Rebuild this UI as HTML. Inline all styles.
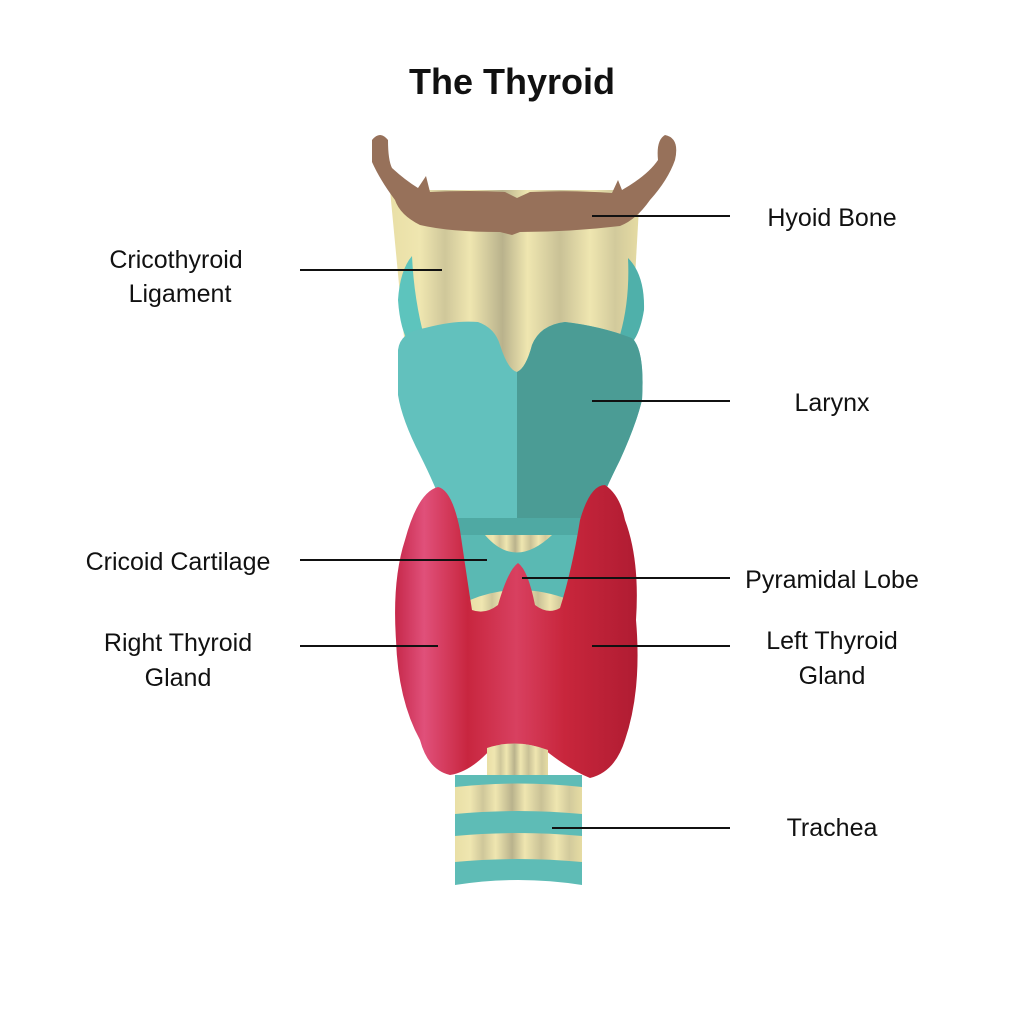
<!DOCTYPE html>
<html><head><meta charset="utf-8"><style>
html,body{margin:0;padding:0;background:#fff;width:1024px;height:1024px;overflow:hidden}
svg{display:block}
text{font-family:"Liberation Sans",sans-serif;fill:#111}
</style></head><body>
<svg width="1024" height="1024" viewBox="0 0 1024 1024" xmlns="http://www.w3.org/2000/svg">
<defs>
<linearGradient id="cream" x1="0" x2="1" y1="0" y2="0">
<stop offset="0" stop-color="#e9dfa6"/><stop offset="0.12" stop-color="#efe6b0"/><stop offset="0.22" stop-color="#cfc79a"/><stop offset="0.32" stop-color="#efe6b0"/><stop offset="0.45" stop-color="#b9b28c"/><stop offset="0.55" stop-color="#efe6b0"/><stop offset="0.68" stop-color="#c9c196"/><stop offset="0.8" stop-color="#efe6b0"/><stop offset="0.9" stop-color="#d2ca9c"/><stop offset="1" stop-color="#e6dca3"/>
</linearGradient>
<linearGradient id="red" x1="0" x2="1"><stop offset="0" stop-color="#c6284a"/><stop offset="0.12" stop-color="#e0507a"/><stop offset="0.3" stop-color="#c8263f"/><stop offset="0.5" stop-color="#d84060"/><stop offset="0.7" stop-color="#c8263c"/><stop offset="1" stop-color="#b01c32"/></linearGradient>
</defs>
<text x="512" y="94" font-size="36" font-weight="bold" text-anchor="middle">The Thyroid</text>

<!-- ligament -->
<path d="M390 190 L640 190 L628 400 L410 400 Z" fill="url(#cream)"/>
<!-- side horns -->
<path d="M412 256 Q400 270 398 300 Q400 330 410 345 L425 340 Q414 300 412 256Z" fill="#5dc4bd"/>
<path d="M628 258 Q645 275 644 310 Q640 335 630 345 L620 335 Q630 300 628 258Z" fill="#4fb0aa"/>
<!-- hyoid -->
<path d="M372 140 Q380 130 388 140 Q388 160 392 168 Q405 180 418 188 L426 176 L430 192 Q470 190 505 192 L517 198 L530 192 Q575 190 612 193 L618 180 L622 190 Q648 175 658 160 Q656 140 665 135 Q680 138 675 160 Q668 180 650 200 Q636 220 620 226 Q570 232 520 232 L512 235 L500 232 Q450 232 420 225 Q400 215 395 200 Q380 180 372 162Z" fill="#97715a"/>
<!-- thyroid cartilage -->
<path d="M398 350 Q400 332 425 328 Q455 320 478 322 Q495 328 500 345 Q508 370 517 372 Q526 368 532 345 Q540 325 565 322 Q600 326 632 338 Q645 350 642 400 Q636 425 620 460 Q600 500 594 520 L447 520 Q440 495 420 455 Q402 420 398 395Z" fill="#62c1bd"/>
<path d="M517 372 Q526 368 532 345 Q540 325 565 322 Q600 326 632 338 Q645 350 642 400 Q636 425 620 460 Q600 500 594 520 L517 520Z" fill="#4b9c95"/>
<path d="M445 518 L596 518 Q592 535 578 540 L460 540 Q448 535 445 518Z" fill="#4fa9a3"/>
<!-- cricoid -->
<path d="M452 535 L585 535 L588 610 L450 610Z" fill="#5ab9b3"/>
<path d="M485 535 Q515 570 552 535Z" fill="url(#cream)"/>
<path d="M470 600 Q518 580 570 600 L570 615 L470 615Z" fill="url(#cream)"/>
<!-- thyroid gland -->
<path d="M438 487 Q452 490 460 530 Q468 585 472 610 Q485 615 498 605 Q508 570 518 563 Q528 570 535 605 Q548 615 560 608 Q572 570 580 520 Q590 485 605 485 Q620 495 625 520 Q640 560 636 620 Q642 690 625 740 Q615 772 590 778 Q570 770 545 750 Q520 738 490 750 Q470 772 450 775 Q428 770 420 740 Q398 700 396 640 Q392 580 405 540 Q418 492 438 487Z" fill="url(#red)"/>
<!-- trachea -->
<path d="M487 748 Q517 738 548 750 L548 775 L487 775Z" fill="url(#cream)"/>
<path d="M455 775 L582 775 L582 885 Q518 875 455 885Z" fill="#5ebcb6"/>
<path d="M455 787 Q518 780 582 787 L582 814 Q518 808 455 814Z" fill="url(#cream)"/>
<path d="M455 836 Q518 830 582 836 L582 862 Q518 856 455 862Z" fill="url(#cream)"/>

<g stroke="#111" stroke-width="2">
<line x1="592" y1="216" x2="730" y2="216"/>
<line x1="300" y1="270" x2="442" y2="270"/>
<line x1="592" y1="401" x2="730" y2="401"/>
<line x1="300" y1="560" x2="487" y2="560"/>
<line x1="522" y1="578" x2="730" y2="578"/>
<line x1="300" y1="646" x2="438" y2="646"/>
<line x1="592" y1="646" x2="730" y2="646"/>
<line x1="552" y1="828" x2="730" y2="828"/>
</g>
<g font-size="25">
<text x="832" y="226" text-anchor="middle">Hyoid Bone</text>
<text x="176" y="268" text-anchor="middle">Cricothyroid</text>
<text x="180" y="302" text-anchor="middle">Ligament</text>
<text x="832" y="411" text-anchor="middle">Larynx</text>
<text x="178" y="570" text-anchor="middle">Cricoid Cartilage</text>
<text x="832" y="588" text-anchor="middle">Pyramidal Lobe</text>
<text x="178" y="651" text-anchor="middle">Right Thyroid</text>
<text x="178" y="686" text-anchor="middle">Gland</text>
<text x="832" y="649" text-anchor="middle">Left Thyroid</text>
<text x="832" y="684" text-anchor="middle">Gland</text>
<text x="832" y="836" text-anchor="middle">Trachea</text>
</g>
</svg>
</body></html>
